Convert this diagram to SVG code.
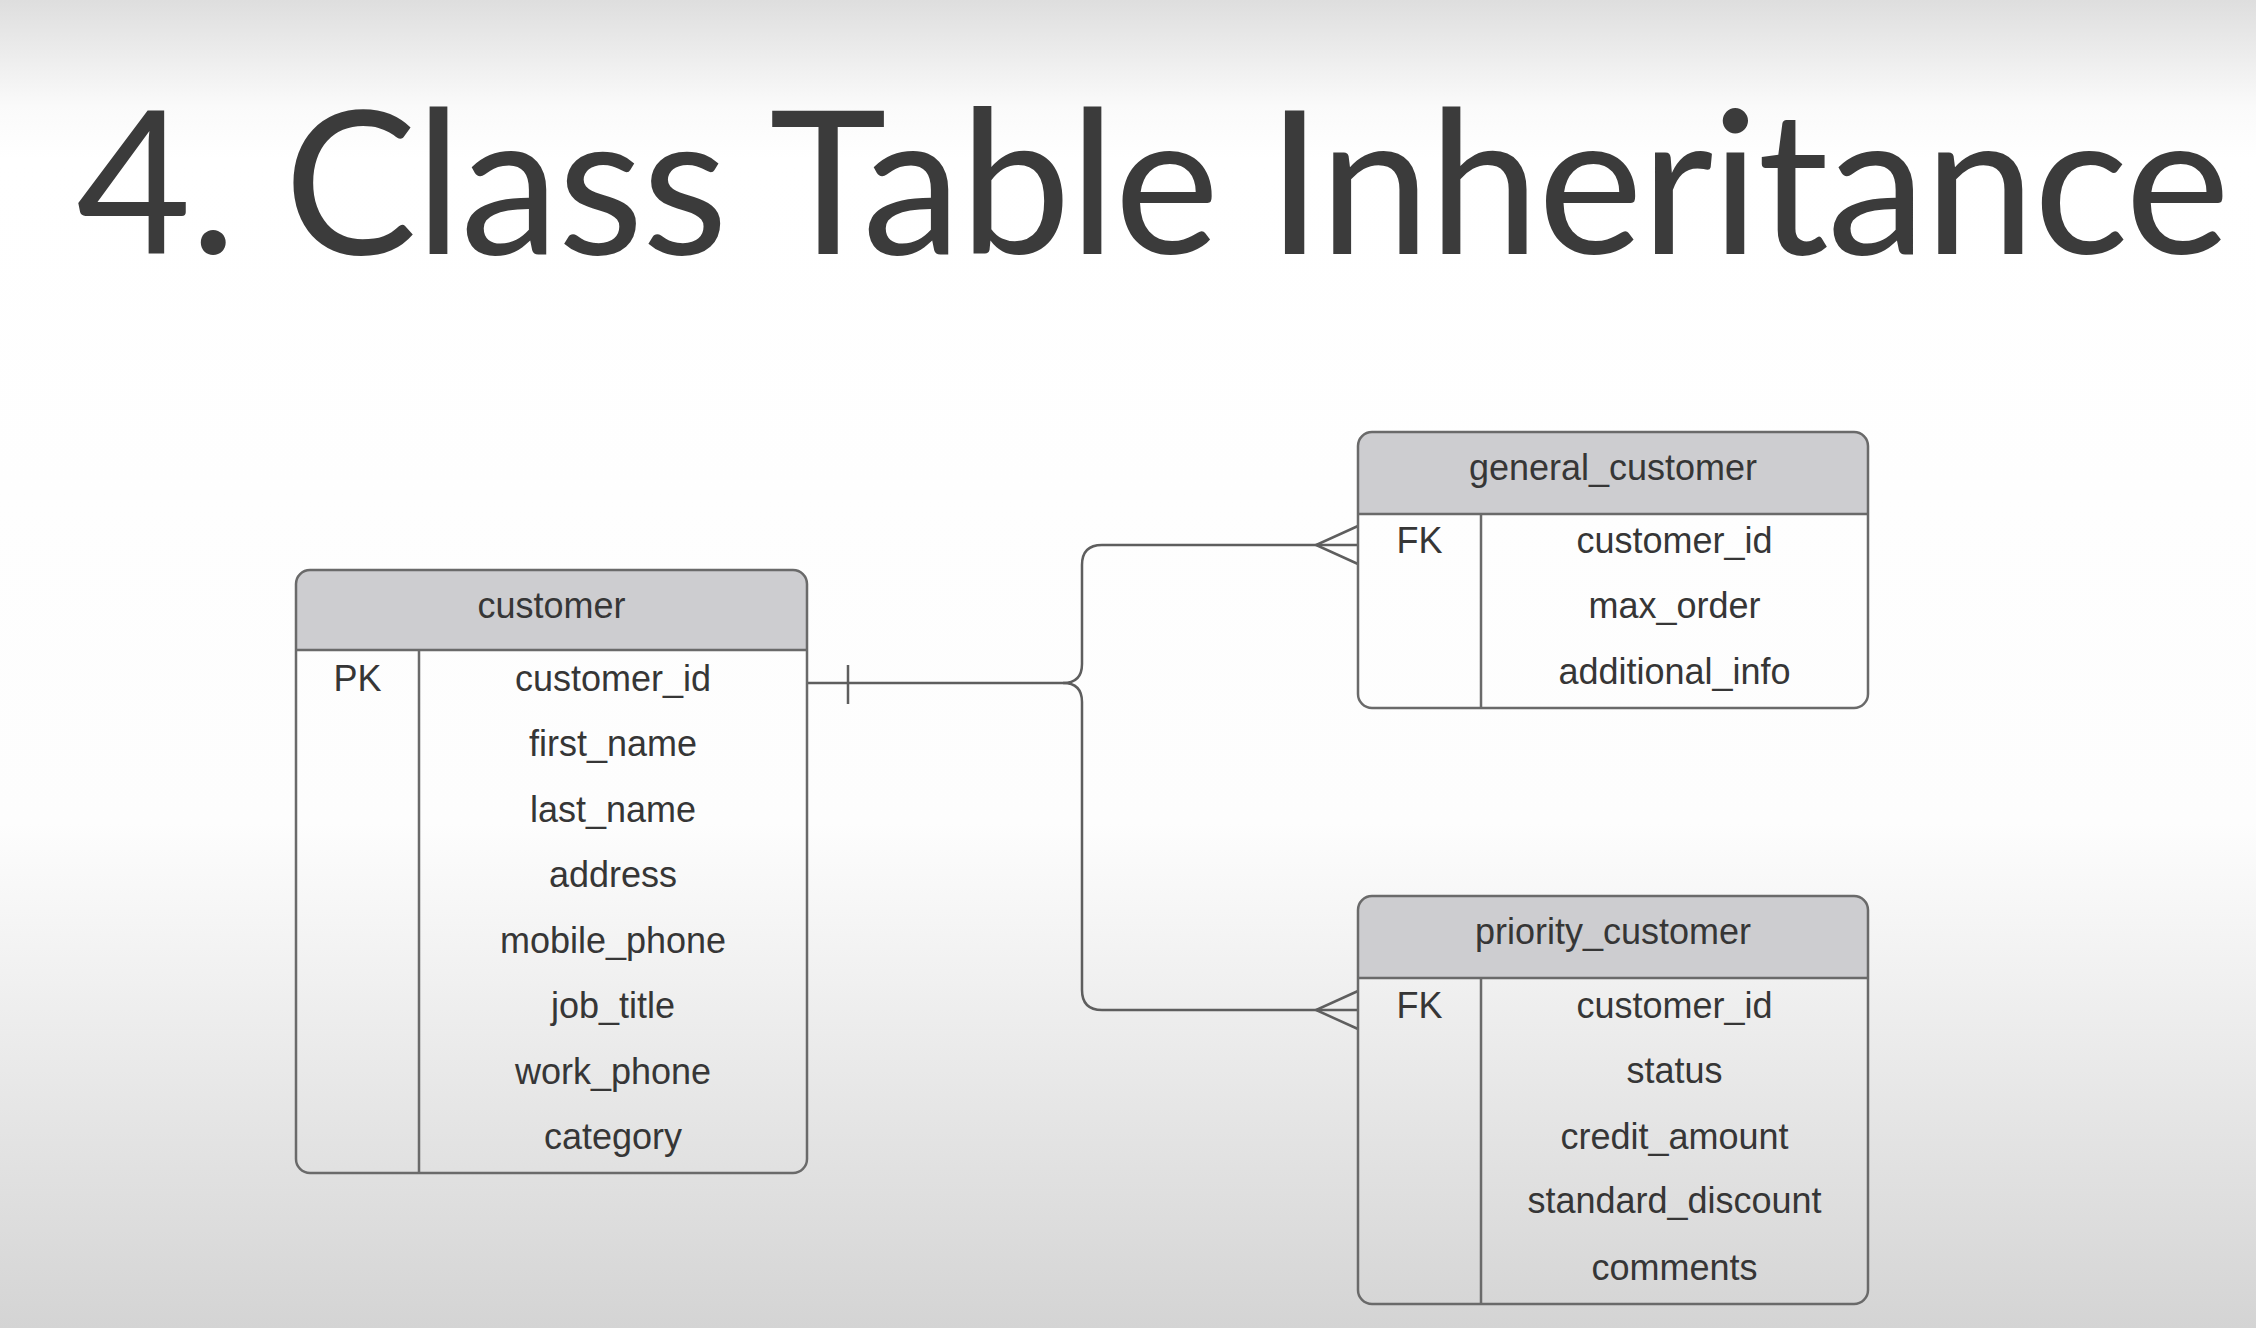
<svg xmlns="http://www.w3.org/2000/svg" width="2256" height="1328" viewBox="0 0 2256 1328">
<defs>
<linearGradient id="bg" x1="0" y1="0" x2="0" y2="1">
<stop offset="0" stop-color="#dedede"/>
<stop offset="0.08" stop-color="#fafafa"/>
<stop offset="0.12" stop-color="#ffffff"/>
<stop offset="0.62" stop-color="#fdfdfd"/>
<stop offset="1" stop-color="#d4d4d4"/>
</linearGradient>
<style>
.box{fill:none;stroke:#6a6a6a;stroke-width:2.5}
.hdr{fill:#cdcdd0;stroke:none}
.ln{stroke:#6a6a6a;stroke-width:2.5;fill:none}
.t{font-family:"Liberation Sans",Arial,sans-serif;font-size:36px;fill:#363636;text-anchor:middle}
.title{font-family:Lato,"Open Sans",sans-serif;font-size:199px;fill:#3b3b3b}
.conn{stroke:#5e5e5e;stroke-width:2.5;fill:none}
</style>
</defs>
<rect x="0" y="0" width="2256" height="1328" fill="url(#bg)"/>
<text class="title" x="76" y="254" textLength="2154" lengthAdjust="spacing">4. Class Table Inheritance</text>

<g id="connectors">
<path class="conn" d="M807,683 H1063 Q1082,683 1082,664 V565 Q1082,545 1102,545 H1358"/>
<path class="conn" d="M1063,683 Q1082,683 1082,702 V990 Q1082,1010 1102,1010 H1358"/>
<line class="conn" x1="848" y1="665" x2="848" y2="704"/>
<path class="conn" d="M1358,526 L1316,545 L1358,564"/>
<path class="conn" d="M1358,991 L1316,1010 L1358,1029"/>
</g>

<g id="customer">
<path class="hdr" d="M296,650 V584 Q296,570 310,570 H793 Q807,570 807,584 V650 Z"/>
<rect class="box" x="296" y="570" width="511" height="603" rx="14"/>
<line class="ln" x1="296" y1="650" x2="807" y2="650"/>
<line class="ln" x1="419" y1="650" x2="419" y2="1173"/>
<text class="t" x="551.5" y="618">customer</text>
<text class="t" x="357.5" y="691">PK</text>
<text class="t" x="613" y="691">customer_id</text>
<text class="t" x="613" y="756">first_name</text>
<text class="t" x="613" y="822">last_name</text>
<text class="t" x="613" y="887">address</text>
<text class="t" x="613" y="953">mobile_phone</text>
<text class="t" x="613" y="1018">job_title</text>
<text class="t" x="613" y="1084">work_phone</text>
<text class="t" x="613" y="1149">category</text>
</g>

<g id="general_customer">
<path class="hdr" d="M1358,514 V446 Q1358,432 1372,432 H1854 Q1868,432 1868,446 V514 Z"/>
<rect class="box" x="1358" y="432" width="510" height="276" rx="14"/>
<line class="ln" x1="1358" y1="514" x2="1868" y2="514"/>
<line class="ln" x1="1481" y1="514" x2="1481" y2="708"/>
<text class="t" x="1613" y="480">general_customer</text>
<text class="t" x="1419.5" y="553">FK</text>
<text class="t" x="1674.5" y="553">customer_id</text>
<text class="t" x="1674.5" y="618">max_order</text>
<text class="t" x="1674.5" y="684">additional_info</text>
</g>

<g id="priority_customer">
<path class="hdr" d="M1358,978 V910 Q1358,896 1372,896 H1854 Q1868,896 1868,910 V978 Z"/>
<rect class="box" x="1358" y="896" width="510" height="408" rx="14"/>
<line class="ln" x1="1358" y1="978" x2="1868" y2="978"/>
<line class="ln" x1="1481" y1="978" x2="1481" y2="1304"/>
<text class="t" x="1613" y="944">priority_customer</text>
<text class="t" x="1419.5" y="1018">FK</text>
<text class="t" x="1674.5" y="1018">customer_id</text>
<text class="t" x="1674.5" y="1083">status</text>
<text class="t" x="1674.5" y="1149">credit_amount</text>
<text class="t" x="1674.5" y="1213">standard_discount</text>
<text class="t" x="1674.5" y="1280">comments</text>
</g>
</svg>
